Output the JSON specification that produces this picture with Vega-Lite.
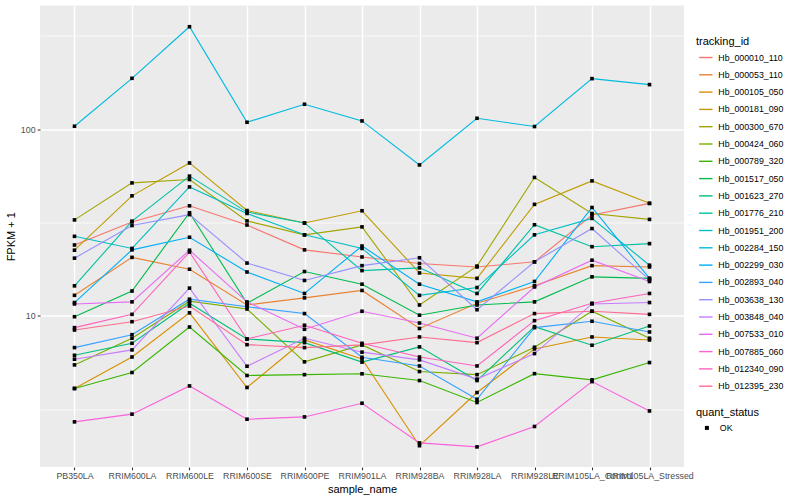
{
  "$schema": "https://vega.github.io/schema/vega-lite/v6.json",
  "width": 644,
  "height": 461.5,
  "autosize": {"type": "none"},
  "padding": {"left": 40, "top": 5.5, "right": 116, "bottom": 33},
  "background": "white",
  "config": {
    "font": "Liberation Sans",
    "view": {"fill": "#EBEBEB", "stroke": null},
    "axis": {
      "labelFontSize": 8.8,
      "labelColor": "#4D4D4D",
      "tickColor": "#333333",
      "tickSize": 2.75,
      "tickWidth": 1.07,
      "domain": false,
      "gridColor": "white",
      "gridWidth": 1.42,
      "titleFontSize": 11,
      "titleFontWeight": "normal",
      "titleColor": "black",
      "labelPadding": 2.2
    },
    "legend": {
      "titleFontSize": 11,
      "titleFontWeight": "normal",
      "titleColor": "black",
      "labelFontSize": 8.8,
      "labelColor": "black",
      "padding": 0
    }
  },
  "data": {
    "values": [
      {"tracking_id": "Hb_000010_110", "sample_name": "PB350LA", "fpkm": 24.0, "quant_status": "OK"},
      {"tracking_id": "Hb_000010_110", "sample_name": "RRIM600LA", "fpkm": 31.9, "quant_status": "OK"},
      {"tracking_id": "Hb_000010_110", "sample_name": "RRIM600LE", "fpkm": 38.9, "quant_status": "OK"},
      {"tracking_id": "Hb_000010_110", "sample_name": "RRIM600SE", "fpkm": 30.7, "quant_status": "OK"},
      {"tracking_id": "Hb_000010_110", "sample_name": "RRIM600PE", "fpkm": 22.6, "quant_status": "OK"},
      {"tracking_id": "Hb_000010_110", "sample_name": "RRIM901LA", "fpkm": 20.7, "quant_status": "OK"},
      {"tracking_id": "Hb_000010_110", "sample_name": "RRIM928BA", "fpkm": 19.1, "quant_status": "OK"},
      {"tracking_id": "Hb_000010_110", "sample_name": "RRIM928LA", "fpkm": 18.3, "quant_status": "OK"},
      {"tracking_id": "Hb_000010_110", "sample_name": "RRIM928LE", "fpkm": 19.5, "quant_status": "OK"},
      {"tracking_id": "Hb_000010_110", "sample_name": "RRIM105LA_Control", "fpkm": 34.7, "quant_status": "OK"},
      {"tracking_id": "Hb_000010_110", "sample_name": "RRIM105LA_Stressed", "fpkm": 40.1, "quant_status": "OK"},

      {"tracking_id": "Hb_000053_110", "sample_name": "PB350LA", "fpkm": 12.9, "quant_status": "OK"},
      {"tracking_id": "Hb_000053_110", "sample_name": "RRIM600LA", "fpkm": 20.6, "quant_status": "OK"},
      {"tracking_id": "Hb_000053_110", "sample_name": "RRIM600LE", "fpkm": 17.8, "quant_status": "OK"},
      {"tracking_id": "Hb_000053_110", "sample_name": "RRIM600SE", "fpkm": 11.45, "quant_status": "OK"},
      {"tracking_id": "Hb_000053_110", "sample_name": "RRIM600PE", "fpkm": 12.5, "quant_status": "OK"},
      {"tracking_id": "Hb_000053_110", "sample_name": "RRIM901LA", "fpkm": 13.7, "quant_status": "OK"},
      {"tracking_id": "Hb_000053_110", "sample_name": "RRIM928BA", "fpkm": 8.57, "quant_status": "OK"},
      {"tracking_id": "Hb_000053_110", "sample_name": "RRIM928LA", "fpkm": 11.7, "quant_status": "OK"},
      {"tracking_id": "Hb_000053_110", "sample_name": "RRIM928LE", "fpkm": 14.5, "quant_status": "OK"},
      {"tracking_id": "Hb_000053_110", "sample_name": "RRIM105LA_Control", "fpkm": 18.6, "quant_status": "OK"},
      {"tracking_id": "Hb_000053_110", "sample_name": "RRIM105LA_Stressed", "fpkm": 18.3, "quant_status": "OK"},

      {"tracking_id": "Hb_000105_050", "sample_name": "PB350LA", "fpkm": 4.09, "quant_status": "OK"},
      {"tracking_id": "Hb_000105_050", "sample_name": "RRIM600LA", "fpkm": 6.03, "quant_status": "OK"},
      {"tracking_id": "Hb_000105_050", "sample_name": "RRIM600LE", "fpkm": 10.4, "quant_status": "OK"},
      {"tracking_id": "Hb_000105_050", "sample_name": "RRIM600SE", "fpkm": 4.14, "quant_status": "OK"},
      {"tracking_id": "Hb_000105_050", "sample_name": "RRIM600PE", "fpkm": 7.44, "quant_status": "OK"},
      {"tracking_id": "Hb_000105_050", "sample_name": "RRIM901LA", "fpkm": 5.89, "quant_status": "OK"},
      {"tracking_id": "Hb_000105_050", "sample_name": "RRIM928BA", "fpkm": 2.02, "quant_status": "OK"},
      {"tracking_id": "Hb_000105_050", "sample_name": "RRIM928LA", "fpkm": 3.89, "quant_status": "OK"},
      {"tracking_id": "Hb_000105_050", "sample_name": "RRIM928LE", "fpkm": 6.66, "quant_status": "OK"},
      {"tracking_id": "Hb_000105_050", "sample_name": "RRIM105LA_Control", "fpkm": 7.72, "quant_status": "OK"},
      {"tracking_id": "Hb_000105_050", "sample_name": "RRIM105LA_Stressed", "fpkm": 7.44, "quant_status": "OK"},

      {"tracking_id": "Hb_000181_090", "sample_name": "PB350LA", "fpkm": 22.5, "quant_status": "OK"},
      {"tracking_id": "Hb_000181_090", "sample_name": "RRIM600LA", "fpkm": 44.0, "quant_status": "OK"},
      {"tracking_id": "Hb_000181_090", "sample_name": "RRIM600LE", "fpkm": 66.0, "quant_status": "OK"},
      {"tracking_id": "Hb_000181_090", "sample_name": "RRIM600SE", "fpkm": 36.7, "quant_status": "OK"},
      {"tracking_id": "Hb_000181_090", "sample_name": "RRIM600PE", "fpkm": 31.5, "quant_status": "OK"},
      {"tracking_id": "Hb_000181_090", "sample_name": "RRIM901LA", "fpkm": 36.6, "quant_status": "OK"},
      {"tracking_id": "Hb_000181_090", "sample_name": "RRIM928BA", "fpkm": 17.0, "quant_status": "OK"},
      {"tracking_id": "Hb_000181_090", "sample_name": "RRIM928LA", "fpkm": 15.9, "quant_status": "OK"},
      {"tracking_id": "Hb_000181_090", "sample_name": "RRIM928LE", "fpkm": 39.6, "quant_status": "OK"},
      {"tracking_id": "Hb_000181_090", "sample_name": "RRIM105LA_Control", "fpkm": 52.9, "quant_status": "OK"},
      {"tracking_id": "Hb_000181_090", "sample_name": "RRIM105LA_Stressed", "fpkm": 40.1, "quant_status": "OK"},

      {"tracking_id": "Hb_000300_670", "sample_name": "PB350LA", "fpkm": 32.7, "quant_status": "OK"},
      {"tracking_id": "Hb_000300_670", "sample_name": "RRIM600LA", "fpkm": 51.6, "quant_status": "OK"},
      {"tracking_id": "Hb_000300_670", "sample_name": "RRIM600LE", "fpkm": 53.8, "quant_status": "OK"},
      {"tracking_id": "Hb_000300_670", "sample_name": "RRIM600SE", "fpkm": 32.3, "quant_status": "OK"},
      {"tracking_id": "Hb_000300_670", "sample_name": "RRIM600PE", "fpkm": 27.2, "quant_status": "OK"},
      {"tracking_id": "Hb_000300_670", "sample_name": "RRIM901LA", "fpkm": 30.0, "quant_status": "OK"},
      {"tracking_id": "Hb_000300_670", "sample_name": "RRIM928BA", "fpkm": 11.45, "quant_status": "OK"},
      {"tracking_id": "Hb_000300_670", "sample_name": "RRIM928LA", "fpkm": 18.5, "quant_status": "OK"},
      {"tracking_id": "Hb_000300_670", "sample_name": "RRIM928LE", "fpkm": 55.2, "quant_status": "OK"},
      {"tracking_id": "Hb_000300_670", "sample_name": "RRIM105LA_Control", "fpkm": 35.4, "quant_status": "OK"},
      {"tracking_id": "Hb_000300_670", "sample_name": "RRIM105LA_Stressed", "fpkm": 32.9, "quant_status": "OK"},

      {"tracking_id": "Hb_000424_060", "sample_name": "PB350LA", "fpkm": 5.47, "quant_status": "OK"},
      {"tracking_id": "Hb_000424_060", "sample_name": "RRIM600LA", "fpkm": 7.60, "quant_status": "OK"},
      {"tracking_id": "Hb_000424_060", "sample_name": "RRIM600LE", "fpkm": 12.0, "quant_status": "OK"},
      {"tracking_id": "Hb_000424_060", "sample_name": "RRIM600SE", "fpkm": 10.9, "quant_status": "OK"},
      {"tracking_id": "Hb_000424_060", "sample_name": "RRIM600PE", "fpkm": 5.68, "quant_status": "OK"},
      {"tracking_id": "Hb_000424_060", "sample_name": "RRIM901LA", "fpkm": 7.00, "quant_status": "OK"},
      {"tracking_id": "Hb_000424_060", "sample_name": "RRIM928BA", "fpkm": 5.04, "quant_status": "OK"},
      {"tracking_id": "Hb_000424_060", "sample_name": "RRIM928LA", "fpkm": 4.85, "quant_status": "OK"},
      {"tracking_id": "Hb_000424_060", "sample_name": "RRIM928LE", "fpkm": 6.80, "quant_status": "OK"},
      {"tracking_id": "Hb_000424_060", "sample_name": "RRIM105LA_Control", "fpkm": 10.6, "quant_status": "OK"},
      {"tracking_id": "Hb_000424_060", "sample_name": "RRIM105LA_Stressed", "fpkm": 7.60, "quant_status": "OK"},

      {"tracking_id": "Hb_000789_320", "sample_name": "PB350LA", "fpkm": 4.09, "quant_status": "OK"},
      {"tracking_id": "Hb_000789_320", "sample_name": "RRIM600LA", "fpkm": 4.98, "quant_status": "OK"},
      {"tracking_id": "Hb_000789_320", "sample_name": "RRIM600LE", "fpkm": 8.73, "quant_status": "OK"},
      {"tracking_id": "Hb_000789_320", "sample_name": "RRIM600SE", "fpkm": 4.80, "quant_status": "OK"},
      {"tracking_id": "Hb_000789_320", "sample_name": "RRIM600PE", "fpkm": 4.85, "quant_status": "OK"},
      {"tracking_id": "Hb_000789_320", "sample_name": "RRIM901LA", "fpkm": 4.90, "quant_status": "OK"},
      {"tracking_id": "Hb_000789_320", "sample_name": "RRIM928BA", "fpkm": 4.51, "quant_status": "OK"},
      {"tracking_id": "Hb_000789_320", "sample_name": "RRIM928LA", "fpkm": 3.44, "quant_status": "OK"},
      {"tracking_id": "Hb_000789_320", "sample_name": "RRIM928LE", "fpkm": 4.91, "quant_status": "OK"},
      {"tracking_id": "Hb_000789_320", "sample_name": "RRIM105LA_Control", "fpkm": 4.55, "quant_status": "OK"},
      {"tracking_id": "Hb_000789_320", "sample_name": "RRIM105LA_Stressed", "fpkm": 5.63, "quant_status": "OK"},

      {"tracking_id": "Hb_001517_050", "sample_name": "PB350LA", "fpkm": 9.91, "quant_status": "OK"},
      {"tracking_id": "Hb_001517_050", "sample_name": "RRIM600LA", "fpkm": 13.6, "quant_status": "OK"},
      {"tracking_id": "Hb_001517_050", "sample_name": "RRIM600LE", "fpkm": 35.7, "quant_status": "OK"},
      {"tracking_id": "Hb_001517_050", "sample_name": "RRIM600SE", "fpkm": 11.7, "quant_status": "OK"},
      {"tracking_id": "Hb_001517_050", "sample_name": "RRIM600PE", "fpkm": 17.3, "quant_status": "OK"},
      {"tracking_id": "Hb_001517_050", "sample_name": "RRIM901LA", "fpkm": 14.8, "quant_status": "OK"},
      {"tracking_id": "Hb_001517_050", "sample_name": "RRIM928BA", "fpkm": 10.1, "quant_status": "OK"},
      {"tracking_id": "Hb_001517_050", "sample_name": "RRIM928LA", "fpkm": 11.45, "quant_status": "OK"},
      {"tracking_id": "Hb_001517_050", "sample_name": "RRIM928LE", "fpkm": 11.9, "quant_status": "OK"},
      {"tracking_id": "Hb_001517_050", "sample_name": "RRIM105LA_Control", "fpkm": 16.2, "quant_status": "OK"},
      {"tracking_id": "Hb_001517_050", "sample_name": "RRIM105LA_Stressed", "fpkm": 15.9, "quant_status": "OK"},

      {"tracking_id": "Hb_001623_270", "sample_name": "PB350LA", "fpkm": 6.16, "quant_status": "OK"},
      {"tracking_id": "Hb_001623_270", "sample_name": "RRIM600LA", "fpkm": 7.14, "quant_status": "OK"},
      {"tracking_id": "Hb_001623_270", "sample_name": "RRIM600LE", "fpkm": 11.7, "quant_status": "OK"},
      {"tracking_id": "Hb_001623_270", "sample_name": "RRIM600SE", "fpkm": 7.53, "quant_status": "OK"},
      {"tracking_id": "Hb_001623_270", "sample_name": "RRIM600PE", "fpkm": 7.20, "quant_status": "OK"},
      {"tracking_id": "Hb_001623_270", "sample_name": "RRIM901LA", "fpkm": 5.66, "quant_status": "OK"},
      {"tracking_id": "Hb_001623_270", "sample_name": "RRIM928BA", "fpkm": 6.83, "quant_status": "OK"},
      {"tracking_id": "Hb_001623_270", "sample_name": "RRIM928LA", "fpkm": 4.51, "quant_status": "OK"},
      {"tracking_id": "Hb_001623_270", "sample_name": "RRIM928LE", "fpkm": 8.77, "quant_status": "OK"},
      {"tracking_id": "Hb_001623_270", "sample_name": "RRIM105LA_Control", "fpkm": 6.97, "quant_status": "OK"},
      {"tracking_id": "Hb_001623_270", "sample_name": "RRIM105LA_Stressed", "fpkm": 8.84, "quant_status": "OK"},

      {"tracking_id": "Hb_001776_210", "sample_name": "PB350LA", "fpkm": 14.5, "quant_status": "OK"},
      {"tracking_id": "Hb_001776_210", "sample_name": "RRIM600LA", "fpkm": 32.2, "quant_status": "OK"},
      {"tracking_id": "Hb_001776_210", "sample_name": "RRIM600LE", "fpkm": 56.1, "quant_status": "OK"},
      {"tracking_id": "Hb_001776_210", "sample_name": "RRIM600SE", "fpkm": 36.0, "quant_status": "OK"},
      {"tracking_id": "Hb_001776_210", "sample_name": "RRIM600PE", "fpkm": 31.5, "quant_status": "OK"},
      {"tracking_id": "Hb_001776_210", "sample_name": "RRIM901LA", "fpkm": 17.5, "quant_status": "OK"},
      {"tracking_id": "Hb_001776_210", "sample_name": "RRIM928BA", "fpkm": 18.1, "quant_status": "OK"},
      {"tracking_id": "Hb_001776_210", "sample_name": "RRIM928LA", "fpkm": 13.2, "quant_status": "OK"},
      {"tracking_id": "Hb_001776_210", "sample_name": "RRIM928LE", "fpkm": 30.8, "quant_status": "OK"},
      {"tracking_id": "Hb_001776_210", "sample_name": "RRIM105LA_Control", "fpkm": 23.5, "quant_status": "OK"},
      {"tracking_id": "Hb_001776_210", "sample_name": "RRIM105LA_Stressed", "fpkm": 24.4, "quant_status": "OK"},

      {"tracking_id": "Hb_001951_200", "sample_name": "PB350LA", "fpkm": 26.7, "quant_status": "OK"},
      {"tracking_id": "Hb_001951_200", "sample_name": "RRIM600LA", "fpkm": 23.0, "quant_status": "OK"},
      {"tracking_id": "Hb_001951_200", "sample_name": "RRIM600LE", "fpkm": 49.1, "quant_status": "OK"},
      {"tracking_id": "Hb_001951_200", "sample_name": "RRIM600SE", "fpkm": 35.4, "quant_status": "OK"},
      {"tracking_id": "Hb_001951_200", "sample_name": "RRIM600PE", "fpkm": 27.2, "quant_status": "OK"},
      {"tracking_id": "Hb_001951_200", "sample_name": "RRIM901LA", "fpkm": 23.0, "quant_status": "OK"},
      {"tracking_id": "Hb_001951_200", "sample_name": "RRIM928BA", "fpkm": 12.9, "quant_status": "OK"},
      {"tracking_id": "Hb_001951_200", "sample_name": "RRIM928LA", "fpkm": 14.2, "quant_status": "OK"},
      {"tracking_id": "Hb_001951_200", "sample_name": "RRIM928LE", "fpkm": 27.2, "quant_status": "OK"},
      {"tracking_id": "Hb_001951_200", "sample_name": "RRIM105LA_Control", "fpkm": 33.3, "quant_status": "OK"},
      {"tracking_id": "Hb_001951_200", "sample_name": "RRIM105LA_Stressed", "fpkm": 18.7, "quant_status": "OK"},

      {"tracking_id": "Hb_002284_150", "sample_name": "PB350LA", "fpkm": 103.8, "quant_status": "OK"},
      {"tracking_id": "Hb_002284_150", "sample_name": "RRIM600LA", "fpkm": 187.4, "quant_status": "OK"},
      {"tracking_id": "Hb_002284_150", "sample_name": "RRIM600LE", "fpkm": 354.1, "quant_status": "OK"},
      {"tracking_id": "Hb_002284_150", "sample_name": "RRIM600SE", "fpkm": 109.0, "quant_status": "OK"},
      {"tracking_id": "Hb_002284_150", "sample_name": "RRIM600PE", "fpkm": 136.1, "quant_status": "OK"},
      {"tracking_id": "Hb_002284_150", "sample_name": "RRIM901LA", "fpkm": 110.8, "quant_status": "OK"},
      {"tracking_id": "Hb_002284_150", "sample_name": "RRIM928BA", "fpkm": 64.4, "quant_status": "OK"},
      {"tracking_id": "Hb_002284_150", "sample_name": "RRIM928LA", "fpkm": 114.5, "quant_status": "OK"},
      {"tracking_id": "Hb_002284_150", "sample_name": "RRIM928LE", "fpkm": 103.4, "quant_status": "OK"},
      {"tracking_id": "Hb_002284_150", "sample_name": "RRIM105LA_Control", "fpkm": 186.7, "quant_status": "OK"},
      {"tracking_id": "Hb_002284_150", "sample_name": "RRIM105LA_Stressed", "fpkm": 173.4, "quant_status": "OK"},

      {"tracking_id": "Hb_002299_030", "sample_name": "PB350LA", "fpkm": 11.8, "quant_status": "OK"},
      {"tracking_id": "Hb_002299_030", "sample_name": "RRIM600LA", "fpkm": 22.6, "quant_status": "OK"},
      {"tracking_id": "Hb_002299_030", "sample_name": "RRIM600LE", "fpkm": 26.4, "quant_status": "OK"},
      {"tracking_id": "Hb_002299_030", "sample_name": "RRIM600SE", "fpkm": 17.2, "quant_status": "OK"},
      {"tracking_id": "Hb_002299_030", "sample_name": "RRIM600PE", "fpkm": 13.2, "quant_status": "OK"},
      {"tracking_id": "Hb_002299_030", "sample_name": "RRIM901LA", "fpkm": 23.7, "quant_status": "OK"},
      {"tracking_id": "Hb_002299_030", "sample_name": "RRIM928BA", "fpkm": 14.8, "quant_status": "OK"},
      {"tracking_id": "Hb_002299_030", "sample_name": "RRIM928LA", "fpkm": 11.9, "quant_status": "OK"},
      {"tracking_id": "Hb_002299_030", "sample_name": "RRIM928LE", "fpkm": 15.3, "quant_status": "OK"},
      {"tracking_id": "Hb_002299_030", "sample_name": "RRIM105LA_Control", "fpkm": 38.1, "quant_status": "OK"},
      {"tracking_id": "Hb_002299_030", "sample_name": "RRIM105LA_Stressed", "fpkm": 15.9, "quant_status": "OK"},

      {"tracking_id": "Hb_002893_040", "sample_name": "PB350LA", "fpkm": 6.77, "quant_status": "OK"},
      {"tracking_id": "Hb_002893_040", "sample_name": "RRIM600LA", "fpkm": 7.94, "quant_status": "OK"},
      {"tracking_id": "Hb_002893_040", "sample_name": "RRIM600LE", "fpkm": 12.3, "quant_status": "OK"},
      {"tracking_id": "Hb_002893_040", "sample_name": "RRIM600SE", "fpkm": 11.2, "quant_status": "OK"},
      {"tracking_id": "Hb_002893_040", "sample_name": "RRIM600PE", "fpkm": 10.3, "quant_status": "OK"},
      {"tracking_id": "Hb_002893_040", "sample_name": "RRIM901LA", "fpkm": 6.01, "quant_status": "OK"},
      {"tracking_id": "Hb_002893_040", "sample_name": "RRIM928BA", "fpkm": 5.40, "quant_status": "OK"},
      {"tracking_id": "Hb_002893_040", "sample_name": "RRIM928LA", "fpkm": 3.58, "quant_status": "OK"},
      {"tracking_id": "Hb_002893_040", "sample_name": "RRIM928LE", "fpkm": 8.66, "quant_status": "OK"},
      {"tracking_id": "Hb_002893_040", "sample_name": "RRIM105LA_Control", "fpkm": 9.37, "quant_status": "OK"},
      {"tracking_id": "Hb_002893_040", "sample_name": "RRIM105LA_Stressed", "fpkm": 8.21, "quant_status": "OK"},

      {"tracking_id": "Hb_003638_130", "sample_name": "PB350LA", "fpkm": 20.4, "quant_status": "OK"},
      {"tracking_id": "Hb_003638_130", "sample_name": "RRIM600LA", "fpkm": 30.5, "quant_status": "OK"},
      {"tracking_id": "Hb_003638_130", "sample_name": "RRIM600LE", "fpkm": 34.9, "quant_status": "OK"},
      {"tracking_id": "Hb_003638_130", "sample_name": "RRIM600SE", "fpkm": 19.2, "quant_status": "OK"},
      {"tracking_id": "Hb_003638_130", "sample_name": "RRIM600PE", "fpkm": 15.5, "quant_status": "OK"},
      {"tracking_id": "Hb_003638_130", "sample_name": "RRIM901LA", "fpkm": 18.6, "quant_status": "OK"},
      {"tracking_id": "Hb_003638_130", "sample_name": "RRIM928BA", "fpkm": 20.5, "quant_status": "OK"},
      {"tracking_id": "Hb_003638_130", "sample_name": "RRIM928LA", "fpkm": 10.8, "quant_status": "OK"},
      {"tracking_id": "Hb_003638_130", "sample_name": "RRIM928LE", "fpkm": 19.5, "quant_status": "OK"},
      {"tracking_id": "Hb_003638_130", "sample_name": "RRIM105LA_Control", "fpkm": 29.4, "quant_status": "OK"},
      {"tracking_id": "Hb_003638_130", "sample_name": "RRIM105LA_Stressed", "fpkm": 15.6, "quant_status": "OK"},

      {"tracking_id": "Hb_003848_040", "sample_name": "PB350LA", "fpkm": 5.87, "quant_status": "OK"},
      {"tracking_id": "Hb_003848_040", "sample_name": "RRIM600LA", "fpkm": 6.58, "quant_status": "OK"},
      {"tracking_id": "Hb_003848_040", "sample_name": "RRIM600LE", "fpkm": 14.1, "quant_status": "OK"},
      {"tracking_id": "Hb_003848_040", "sample_name": "RRIM600SE", "fpkm": 5.38, "quant_status": "OK"},
      {"tracking_id": "Hb_003848_040", "sample_name": "RRIM600PE", "fpkm": 7.60, "quant_status": "OK"},
      {"tracking_id": "Hb_003848_040", "sample_name": "RRIM901LA", "fpkm": 6.40, "quant_status": "OK"},
      {"tracking_id": "Hb_003848_040", "sample_name": "RRIM928BA", "fpkm": 5.82, "quant_status": "OK"},
      {"tracking_id": "Hb_003848_040", "sample_name": "RRIM928LA", "fpkm": 4.59, "quant_status": "OK"},
      {"tracking_id": "Hb_003848_040", "sample_name": "RRIM928LE", "fpkm": 6.29, "quant_status": "OK"},
      {"tracking_id": "Hb_003848_040", "sample_name": "RRIM105LA_Control", "fpkm": 11.6, "quant_status": "OK"},
      {"tracking_id": "Hb_003848_040", "sample_name": "RRIM105LA_Stressed", "fpkm": 11.8, "quant_status": "OK"},

      {"tracking_id": "Hb_007533_010", "sample_name": "PB350LA", "fpkm": 11.6, "quant_status": "OK"},
      {"tracking_id": "Hb_007533_010", "sample_name": "RRIM600LA", "fpkm": 11.9, "quant_status": "OK"},
      {"tracking_id": "Hb_007533_010", "sample_name": "RRIM600LE", "fpkm": 22.5, "quant_status": "OK"},
      {"tracking_id": "Hb_007533_010", "sample_name": "RRIM600SE", "fpkm": 11.9, "quant_status": "OK"},
      {"tracking_id": "Hb_007533_010", "sample_name": "RRIM600PE", "fpkm": 8.49, "quant_status": "OK"},
      {"tracking_id": "Hb_007533_010", "sample_name": "RRIM901LA", "fpkm": 10.6, "quant_status": "OK"},
      {"tracking_id": "Hb_007533_010", "sample_name": "RRIM928BA", "fpkm": 9.17, "quant_status": "OK"},
      {"tracking_id": "Hb_007533_010", "sample_name": "RRIM928LA", "fpkm": 7.60, "quant_status": "OK"},
      {"tracking_id": "Hb_007533_010", "sample_name": "RRIM928LE", "fpkm": 14.3, "quant_status": "OK"},
      {"tracking_id": "Hb_007533_010", "sample_name": "RRIM105LA_Control", "fpkm": 19.9, "quant_status": "OK"},
      {"tracking_id": "Hb_007533_010", "sample_name": "RRIM105LA_Stressed", "fpkm": 15.3, "quant_status": "OK"},

      {"tracking_id": "Hb_007885_060", "sample_name": "PB350LA", "fpkm": 2.71, "quant_status": "OK"},
      {"tracking_id": "Hb_007885_060", "sample_name": "RRIM600LA", "fpkm": 2.98, "quant_status": "OK"},
      {"tracking_id": "Hb_007885_060", "sample_name": "RRIM600LE", "fpkm": 4.22, "quant_status": "OK"},
      {"tracking_id": "Hb_007885_060", "sample_name": "RRIM600SE", "fpkm": 2.80, "quant_status": "OK"},
      {"tracking_id": "Hb_007885_060", "sample_name": "RRIM600PE", "fpkm": 2.88, "quant_status": "OK"},
      {"tracking_id": "Hb_007885_060", "sample_name": "RRIM901LA", "fpkm": 3.41, "quant_status": "OK"},
      {"tracking_id": "Hb_007885_060", "sample_name": "RRIM928BA", "fpkm": 2.09, "quant_status": "OK"},
      {"tracking_id": "Hb_007885_060", "sample_name": "RRIM928LA", "fpkm": 1.99, "quant_status": "OK"},
      {"tracking_id": "Hb_007885_060", "sample_name": "RRIM928LE", "fpkm": 2.56, "quant_status": "OK"},
      {"tracking_id": "Hb_007885_060", "sample_name": "RRIM105LA_Control", "fpkm": 4.45, "quant_status": "OK"},
      {"tracking_id": "Hb_007885_060", "sample_name": "RRIM105LA_Stressed", "fpkm": 3.10, "quant_status": "OK"},

      {"tracking_id": "Hb_012340_090", "sample_name": "PB350LA", "fpkm": 8.66, "quant_status": "OK"},
      {"tracking_id": "Hb_012340_090", "sample_name": "RRIM600LA", "fpkm": 10.2, "quant_status": "OK"},
      {"tracking_id": "Hb_012340_090", "sample_name": "RRIM600LE", "fpkm": 22.0, "quant_status": "OK"},
      {"tracking_id": "Hb_012340_090", "sample_name": "RRIM600SE", "fpkm": 7.53, "quant_status": "OK"},
      {"tracking_id": "Hb_012340_090", "sample_name": "RRIM600PE", "fpkm": 8.92, "quant_status": "OK"},
      {"tracking_id": "Hb_012340_090", "sample_name": "RRIM901LA", "fpkm": 7.14, "quant_status": "OK"},
      {"tracking_id": "Hb_012340_090", "sample_name": "RRIM928BA", "fpkm": 6.03, "quant_status": "OK"},
      {"tracking_id": "Hb_012340_090", "sample_name": "RRIM928LA", "fpkm": 5.40, "quant_status": "OK"},
      {"tracking_id": "Hb_012340_090", "sample_name": "RRIM928LE", "fpkm": 9.44, "quant_status": "OK"},
      {"tracking_id": "Hb_012340_090", "sample_name": "RRIM105LA_Control", "fpkm": 11.7, "quant_status": "OK"},
      {"tracking_id": "Hb_012340_090", "sample_name": "RRIM105LA_Stressed", "fpkm": 13.2, "quant_status": "OK"},

      {"tracking_id": "Hb_012395_230", "sample_name": "PB350LA", "fpkm": 8.41, "quant_status": "OK"},
      {"tracking_id": "Hb_012395_230", "sample_name": "RRIM600LA", "fpkm": 9.32, "quant_status": "OK"},
      {"tracking_id": "Hb_012395_230", "sample_name": "RRIM600LE", "fpkm": 11.3, "quant_status": "OK"},
      {"tracking_id": "Hb_012395_230", "sample_name": "RRIM600SE", "fpkm": 7.02, "quant_status": "OK"},
      {"tracking_id": "Hb_012395_230", "sample_name": "RRIM600PE", "fpkm": 6.77, "quant_status": "OK"},
      {"tracking_id": "Hb_012395_230", "sample_name": "RRIM901LA", "fpkm": 7.00, "quant_status": "OK"},
      {"tracking_id": "Hb_012395_230", "sample_name": "RRIM928BA", "fpkm": 7.72, "quant_status": "OK"},
      {"tracking_id": "Hb_012395_230", "sample_name": "RRIM928LA", "fpkm": 7.20, "quant_status": "OK"},
      {"tracking_id": "Hb_012395_230", "sample_name": "RRIM928LE", "fpkm": 10.3, "quant_status": "OK"},
      {"tracking_id": "Hb_012395_230", "sample_name": "RRIM105LA_Control", "fpkm": 10.6, "quant_status": "OK"},
      {"tracking_id": "Hb_012395_230", "sample_name": "RRIM105LA_Stressed", "fpkm": 10.2, "quant_status": "OK"}
    ]
  },
  "encoding": {
    "x": {
      "field": "sample_name",
      "type": "nominal",
      "sort": ["PB350LA", "RRIM600LA", "RRIM600LE", "RRIM600SE", "RRIM600PE", "RRIM901LA", "RRIM928BA", "RRIM928LA", "RRIM928LE", "RRIM105LA_Control", "RRIM105LA_Stressed"],
      "scale": {"type": "point", "padding": 0.6},
      "axis": {"title": "sample_name", "labelAngle": 0, "grid": true, "labelOverlap": false, "labelBound": false, "titlePadding": 3}
    },
    "y": {
      "field": "fpkm",
      "type": "quantitative",
      "scale": {"type": "log", "domain": [1.553, 460], "nice": false, "zero": false},
      "axis": {
        "title": "FPKM + 1",
        "values": [3.1623, 10, 31.623, 100, 316.23],
        "labelExpr": "datum.value === 10 ? '10' : (datum.value === 100 ? '100' : '')",
        "gridWidth": {"condition": {"test": "datum.value === 10 || datum.value === 100", "value": 1.42}, "value": 0.71},
        "tickOpacity": {"condition": {"test": "datum.value === 10 || datum.value === 100", "value": 1}, "value": 0},
        "titlePadding": 4
      }
    }
  },
  "layer": [
    {
      "mark": {"type": "line", "strokeWidth": 1.1},
      "encoding": {
        "color": {
          "field": "tracking_id",
          "type": "nominal",
          "scale": {
            "domain": ["Hb_000010_110", "Hb_000053_110", "Hb_000105_050", "Hb_000181_090", "Hb_000300_670", "Hb_000424_060", "Hb_000789_320", "Hb_001517_050", "Hb_001623_270", "Hb_001776_210", "Hb_001951_200", "Hb_002284_150", "Hb_002299_030", "Hb_002893_040", "Hb_003638_130", "Hb_003848_040", "Hb_007533_010", "Hb_007885_060", "Hb_012340_090", "Hb_012395_230"],
            "range": ["#F8766D", "#EA8331", "#D89000", "#C09B00", "#A3A500", "#7CAE00", "#39B600", "#00BB4E", "#00BF7D", "#00C1A3", "#00BFC4", "#00BAE0", "#00B0F6", "#35A2FF", "#9590FF", "#C77CFF", "#E76BF3", "#FA62DB", "#FF62BC", "#FF6C91"]
          },
          "legend": {
            "title": "tracking_id",
            "orient": "none",
            "legendX": 656,
            "legendY": 30,
            "symbolType": "stroke",
            "symbolSize": 180,
            "symbolStrokeWidth": 1.4,
            "symbolOffset": 2.3,
            "labelOffset": 5,
            "rowPadding": 4.3,
            "titlePadding": 3.5
          }
        }
      }
    },
    {
      "mark": {"type": "point", "filled": true, "color": "black", "size": 13, "opacity": 1},
      "encoding": {
        "shape": {
          "field": "quant_status",
          "type": "nominal",
          "scale": {"domain": ["OK"], "range": ["square"]},
          "legend": {
            "title": "quant_status",
            "orient": "none",
            "legendX": 656,
            "legendY": 401,
            "symbolSize": 16,
            "symbolFillColor": "black",
            "symbolStrokeColor": "black",
            "symbolOffset": 6.5,
            "labelOffset": 8.5,
            "titlePadding": 6
          }
        }
      }
    }
  ]
}
